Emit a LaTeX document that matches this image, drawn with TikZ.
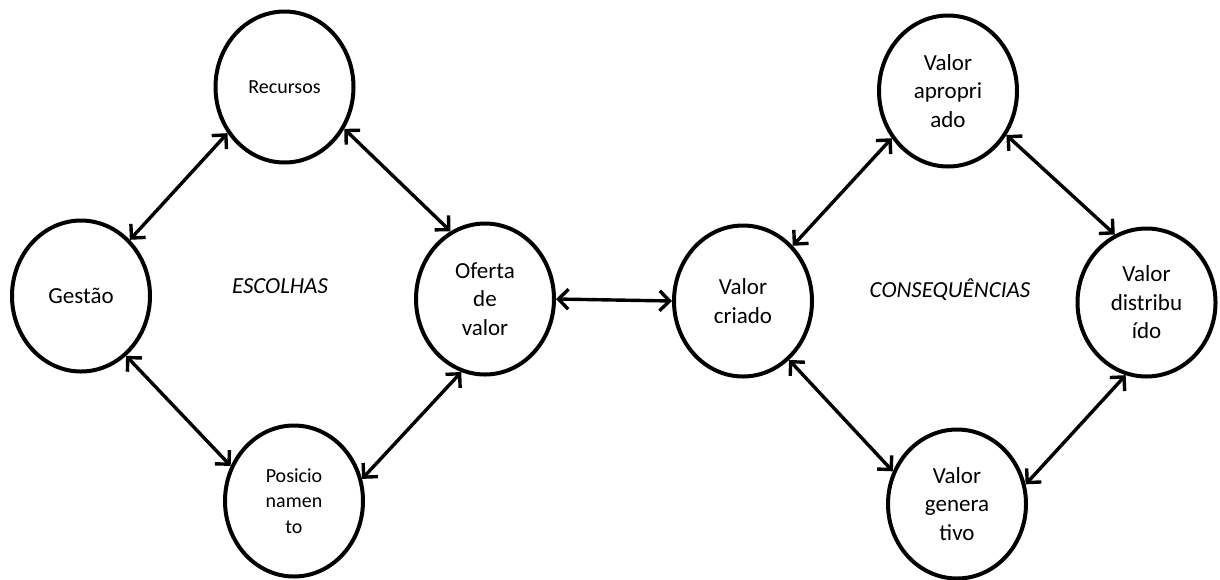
\documentclass[tikz,border=0pt]{standalone}
\usepackage{fontspec}
\setmainfont{Carlito}
\usetikzlibrary{shapes.geometric,arrows.meta}
\begin{document}
\begin{tikzpicture}[x=1pt,y=-1pt,
  bub/.style={ellipse,draw,line width=4pt,minimum width=138pt,minimum height=151pt,inner sep=0pt,align=center,font=\fontsize{23}{28.5}\selectfont},
  sm/.style={font=\fontsize{20}{25.5}\selectfont},
  link/.style={line width=3.4pt,{Straight Barb[length=10pt,width=20pt]}-{Straight Barb[length=10pt,width=20pt]}},
  lbl/.style={font=\fontsize{23}{28}\selectfont\itshape}]
\useasboundingbox (0,0) rectangle (1220,579);
\node[bub,sm] (rec) at (284.5,87) {Recursos};
\node[bub] (ges) at (81,296) {Gestão};
\node[bub] (ofe) at (485,299) {Oferta\\de\\valor};
\node[bub,sm] (pos) at (294,501) {Posicio\\namen\\to};
\node[bub] (cri) at (743,301) {Valor\\criado};
\node[bub] (apr) at (948,91) {Valor\\apropri\\ado};
\node[bub,minimum height=148pt] (dis) at (1146.5,302.5) {Valor\\distribu\\ído};
\node[bub,minimum height=149pt] (gen) at (957,504) {Valor\\genera\\tivo};
\node[lbl] (esc) at (280,286) {ESCOLHAS};
\node[lbl] (con) at (950,290) {CONSEQUÊNCIAS};
\draw[link] (ges.49) -- (rec.219);
\draw[link] (rec.-35) -- (ofe.117);
\draw[link] (ges.-53) -- (pos.151);
\draw[link] (pos.18) -- (ofe.252);
\draw[link] (ofe.0) -- (cri.180);
\draw[link] (cri.48) -- (apr.220);
\draw[link] (apr.-37) -- (dis.115);
\draw[link] (cri.-52) -- (gen.153);
\draw[link] (gen.16) -- (dis.254);
\end{tikzpicture}
\end{document}
